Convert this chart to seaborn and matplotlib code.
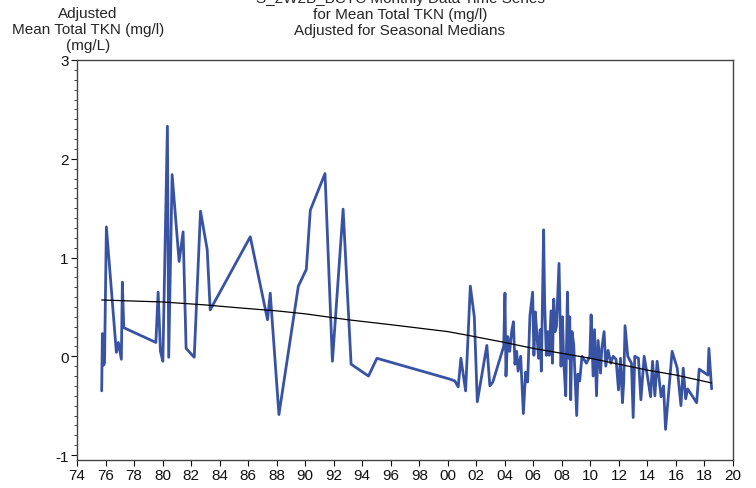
import numpy as np
import pandas as pd
import matplotlib
matplotlib.use("Agg")
import matplotlib.pyplot as plt
from matplotlib.ticker import MultipleLocator
import seaborn as sns

# decimal years and adjusted TKN values
years = [1975.73, 1975.78, 1975.86, 1975.93, 1976.06, 1976.76, 1976.90, 1977.11, 1977.18, 1977.28,
         1979.53, 1979.69, 1979.85, 1980.02, 1980.34, 1980.43, 1980.67, 1981.16, 1981.44, 1981.65,
         1982.22, 1982.66, 1983.13, 1983.34, 1986.15, 1987.36, 1987.55, 1988.16, 1989.52, 1990.08,
         1990.36, 1991.39, 1991.91, 1992.66, 1993.22, 1994.44, 1995.03, 2000.12, 2000.50, 2000.73,
         2000.92, 2001.25, 2001.58, 2001.86, 2002.07, 2002.74, 2002.95, 2003.16, 2003.92,
         2004.01, 2004.08, 2004.20, 2004.34, 2004.48, 2004.60, 2004.71, 2004.83, 2004.93, 2005.11,
         2005.30, 2005.46, 2005.60, 2005.76, 2005.95, 2006.04, 2006.14, 2006.27, 2006.37, 2006.48,
         2006.56, 2006.72, 2006.79, 2006.91, 2007.01, 2007.11, 2007.24, 2007.34, 2007.43, 2007.52,
         2007.62, 2007.80, 2007.94, 2008.04, 2008.13, 2008.27, 2008.39, 2008.48, 2008.55, 2008.62,
         2008.71, 2008.83, 2009.04, 2009.13, 2009.25, 2009.41, 2009.72, 2009.96, 2010.05, 2010.19,
         2010.29, 2010.43, 2010.54, 2010.71, 2010.80, 2010.96, 2011.08, 2011.24, 2011.43, 2011.59,
         2011.80, 2011.97, 2012.11, 2012.25, 2012.34, 2012.43, 2012.62, 2012.88, 2013.00, 2013.11,
         2013.37, 2013.54, 2013.77, 2014.01, 2014.22, 2014.36, 2014.52, 2014.68, 2014.96, 2015.13,
         2015.27, 2015.73, 2016.09, 2016.35, 2016.51, 2016.68, 2016.82, 2017.45, 2017.63, 2018.24,
         2018.31, 2018.50]
values = [-0.35, 0.23, -0.09, -0.07, 1.31, 0.04, 0.14, -0.03, 0.75, 0.29,
          0.14, 0.65, 0.05, -0.05, 2.33, -0.01, 1.84, 0.96, 1.26, 0.08,
          -0.01, 1.47, 1.08, 0.47, 1.21, 0.37, 0.64, -0.59, 0.71, 0.88,
          1.48, 1.85, -0.05, 1.49, -0.08, -0.20, -0.02, -0.23, -0.25, -0.31,
          -0.02, -0.35, 0.71, 0.40, -0.46, 0.11, -0.30, -0.26, 0.10,
          0.64, -0.20, 0.20, 0.05, 0.25, 0.35, -0.08, 0.05, -0.15, 0.00,
          -0.58, -0.16, -0.26, 0.41, 0.65, 0.01, 0.45, 0.17, -0.02, 0.27,
          -0.15, 1.28, 0.55, 0.01, 0.25, 0.01, 0.46, -0.07, 0.58, 0.25,
          0.30, 0.94, -0.10, 0.40, -0.05, -0.40, 0.65, -0.02, 0.40, -0.44,
          0.25, 0.12, -0.60, -0.18, -0.25, 0.00, -0.07, 0.00, 0.42, -0.20,
          0.27, -0.40, 0.16, -0.17, 0.08, 0.25, -0.10, 0.06, -0.07, 0.00,
          -0.03, -0.34, -0.02, -0.47, -0.25, 0.31, 0.00, -0.07, -0.62, 0.00,
          -0.02, -0.44, 0.00, -0.21, -0.41, -0.05, -0.40, -0.05, -0.41, -0.30,
          -0.74, 0.05, -0.12, -0.50, -0.12, -0.43, -0.33, -0.47, -0.13, -0.19,
          0.08, -0.33]

# smooth trend line
trend_years = [1975.73, 1980.0, 1983.0, 1985.4, 1988.0, 1990.0, 1993.0, 1996.0, 2000.0,
               2001.5, 2004.0, 2006.0, 2008.0, 2010.0, 2012.0, 2014.0, 2016.0, 2018.5]
trend_values = [0.57, 0.55, 0.52, 0.49, 0.46, 0.43, 0.37, 0.32, 0.25,
                0.21, 0.14, 0.08, 0.03, -0.02, -0.08, -0.14, -0.19, -0.27]

x_ticks = list(range(1974, 2021, 2))
x_labels = [f"{y % 100:02d}" for y in x_ticks]
y_ticks = [-1, 0, 1, 2, 3]

title_lines = ["S_2W2B_BCTC Monthly Data Time Series",
               "for Mean Total TKN (mg/l)",
               "Adjusted for Seasonal Medians"]
ylabel_lines = ["Adjusted", "Mean Total TKN (mg/l)", "(mg/L)"]

sns.set_style("ticks")
plt.rcParams['font.family'] = ['Liberation Sans', 'DejaVu Sans']
plt.rcParams['axes.unicode_minus'] = False

df = pd.DataFrame({"year": years, "value": values})
tr = pd.DataFrame({"year": trend_years, "value": trend_values})

fig = plt.figure(figsize=(7.56, 4.89), dpi=100)
ax = fig.add_axes([77 / 756, 1 - 461 / 489, (733 - 77) / 756, (461 - 61) / 489])

sns.lineplot(data=df, x="year", y="value", ax=ax, estimator=None, sort=False,
             color="#3953a4", linewidth=2.0)
sns.lineplot(data=tr, x="year", y="value", ax=ax, estimator=None, sort=False,
             color="black", linewidth=0.9)

ax.set_xlim(1974, 2020)
ax.set_ylim(-1.05, 3.0)
ax.set_xticks(x_ticks)
ax.set_xticklabels(x_labels)
ax.set_yticks(y_ticks)
ax.yaxis.set_minor_locator(MultipleLocator(0.1))
ax.tick_params(axis="both", which="major", labelsize=11, length=4, width=0.8,
               colors="#111111", pad=2)
ax.tick_params(axis="y", which="minor", length=2, width=0.6, color="#222222")
ax.set_xlabel("")
ax.set_ylabel("")
for s in ax.spines.values():
    s.set_visible(True)
    s.set_color("#444444")
    s.set_linewidth(1.0)

for i, line in enumerate(title_lines):
    fig.text(400 / 756, 1 - (-1 + 16 * i) / 489, line, ha="center", va="center", fontsize=11)
for i, line in enumerate(ylabel_lines):
    fig.text(88 / 756, 1 - (14 + 16 * i) / 489, line, ha="center", va="center", fontsize=11)

fig.savefig("out.png", dpi=100)
